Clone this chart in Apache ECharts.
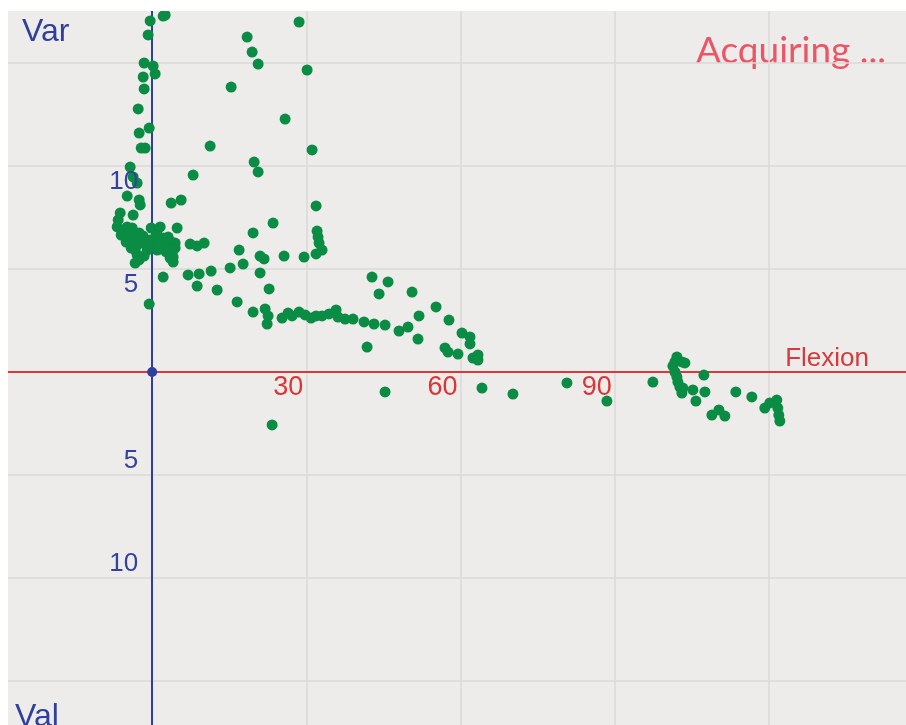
<!DOCTYPE html>
<html>
<head>
<meta charset="utf-8">
<script src="https://cdn.jsdelivr.net/npm/echarts@6/dist/echarts.min.js"></script>
<style>
  html, body { margin: 0; padding: 0; background: #ffffff; }
  #chart { position: absolute; left: 8px; top: 11px; width: 898px; height: 714px; background: #edecea; }
</style>
</head>
<body>
<div id="chart"></div>
<script>
// tick labels shown on the axes
var xLabels = [30, 60, 90]
var yLabels = [-10, -5, 5, 10]

// points near the Var axis
var axisPts = [
  [-0.39, 17.04], [2.14, 17.28], [2.53, 17.33], [-0.78, 16.36], [-1.56, 15.0], [0.19, 14.85],
  [0.58, 14.47], [-1.75, 14.32], [-1.56, 13.74], [-2.72, 12.77], [-0.58, 11.84], [-2.53, 11.6],
  [-2.14, 10.87], [-1.36, 10.87], [-4.28, 9.95], [-3.7, 9.47], [-2.92, 9.17], [-4.86, 8.54],
  [-2.53, 8.35], [-2.33, 8.11], [-0.58, 3.3]
]
// dense cluster around x = 0
var clusterPts = [
  [-6.22, 7.72], [-3.7, 7.62], [-6.61, 7.38], [-6.81, 7.04], [-5.64, 6.89], [-4.86, 7.04],
  [-3.89, 6.99], [-6.03, 6.65], [-5.25, 6.55], [-4.28, 6.6], [-3.31, 6.75], [-2.53, 6.75],
  [-1.75, 6.6], [-2.33, 6.41], [-3.7, 6.31], [-2.92, 6.17], [-1.75, 6.26], [-0.97, 5.92],
  [-3.31, 5.92], [-2.92, 5.68], [-3.31, 5.29], [-0.19, 6.99], [1.56, 7.04], [0.19, 6.31],
  [1.17, 6.41], [2.14, 6.5], [3.11, 6.55], [0.97, 5.92], [1.94, 5.97], [2.92, 6.17],
  [3.7, 6.31], [4.47, 6.26], [3.89, 5.83], [4.08, 5.58], [4.08, 5.34], [4.47, 6.02],
  [2.14, 4.61], [-5.06, 6.31], [-4.08, 6.02], [-1.56, 5.63], [-2.53, 5.44], [-0.39, 6.41],
  [0.78, 6.6], [2.72, 5.83], [3.5, 5.53]
]
// scattered points between 5 and 35
var upperPts = [
  [18.48, 16.26], [19.45, 15.53], [20.62, 14.95], [15.37, 13.83], [11.28, 10.97], [25.87, 12.28],
  [28.59, 16.99], [30.15, 14.66], [31.12, 10.78], [19.84, 10.19], [20.62, 9.71], [7.97, 9.56],
  [3.7, 8.2], [5.64, 8.35], [4.86, 6.99], [31.9, 8.06], [23.53, 7.23], [19.64, 6.75],
  [32.09, 6.84], [32.28, 6.55], [32.48, 6.26], [33.06, 5.92], [31.9, 5.73], [7.39, 6.21],
  [8.75, 6.12], [10.11, 6.26], [16.92, 5.92], [21.0, 5.63], [21.78, 5.49], [25.67, 5.63],
  [29.56, 5.58], [15.17, 5.05], [17.7, 5.24], [11.47, 4.9], [9.14, 4.76], [7.0, 4.71],
  [21.0, 4.81], [8.75, 4.17], [12.64, 3.98], [22.76, 4.03], [16.53, 3.4], [23.34, -2.57]
]
// the long band sloping down to the flexion line
var bandPts = [
  [19.64, 2.91], [21.98, 3.06], [22.56, 2.72], [22.37, 2.33], [25.28, 2.62], [26.45, 2.86],
  [27.23, 2.72], [28.59, 2.91], [29.76, 2.77], [30.92, 2.62], [31.9, 2.72], [33.06, 2.72],
  [34.42, 2.82], [35.79, 3.01], [36.17, 2.67], [37.54, 2.57], [39.09, 2.57], [41.23, 2.43],
  [43.17, 2.33], [45.32, 2.28], [42.78, 4.61], [45.9, 4.37], [44.15, 3.79], [50.57, 3.88],
  [41.82, 1.21], [48.04, 1.99], [49.79, 2.18], [51.93, 2.72], [51.73, 1.6], [55.24, 3.16],
  [57.76, 2.52], [56.98, 1.17], [57.57, 0.97], [59.51, 0.87], [60.29, 1.89], [61.85, 1.7],
  [61.85, 1.36], [62.43, 0.68], [63.4, 0.83], [63.4, 0.58], [45.32, -0.97], [64.18, -0.78],
  [70.21, -1.07], [80.71, -0.53], [88.49, -1.41], [97.44, -0.49]
]
// cluster on the right, around 100 to 122
var rightPts = [
  [102.11, 0.73], [101.72, 0.49], [101.33, 0.29], [103.08, 0.49], [103.66, 0.44], [101.72, 0],
  [102.11, -0.24], [102.3, -0.49], [102.69, -0.73], [103.27, -0.78], [103.08, -1.02], [107.36, -0.15],
  [105.22, -0.87], [107.56, -0.97], [105.81, -1.41], [108.92, -2.09], [110.28, -1.84], [111.45, -2.14],
  [113.58, -0.97], [116.69, -1.21], [119.22, -1.75], [120.19, -1.5], [121.55, -1.36], [121.75, -1.75],
  [121.94, -2.09], [122.14, -2.38]
]
var bluePts = [[0.97, 6.65], [2.53, 5.92]]
var originPt = [[0, 0]]

var green = '#0b8c45'
var blue = '#2f3f9f'
var red = '#d63a3a'
var labelFont = 'Liberation Sans'

function dots(data) {
  return {
    type: 'scatter',
    data: data,
    symbolSize: 11,
    itemStyle: { color: green, opacity: 1 },
    z: 3
  }
}

var myChart = echarts.init(document.getElementById('chart'))
var option = {
  animation: false,
  grid: {
    left: -10,
    right: -17,
    top: -51,
    bottom: -59,
    containLabel: false,
    outerBoundsMode: 'none'
  },
  xAxis: {
    type: 'value',
    min: -30,
    max: 150,
    interval: 30,
    axisLine: { onZero: true, lineStyle: { color: red, width: 2 } },
    axisTick: { show: false },
    axisLabel: { show: false },
    splitLine: { show: true, lineStyle: { color: '#dbdad8', width: 1.5 } }
  },
  yAxis: {
    type: 'value',
    min: -20,
    max: 20,
    interval: 5,
    axisLine: { onZero: true, lineStyle: { color: blue, width: 2 } },
    axisTick: { show: false },
    axisLabel: { show: false },
    splitLine: { show: true, lineStyle: { color: '#dbdad8', width: 1.5 } }
  },
  graphic: [
    { type: 'text', left: 14, top: 5, style: { text: 'Var', fill: blue, font: '32px "Liberation Sans", Arial, sans-serif' } },
    { type: 'text', left: 7, top: 690, style: { text: 'Val', fill: blue, font: '32px "Liberation Sans", Arial, sans-serif' } },
    { type: 'text', right: 20, top: 22, style: { text: 'Acquiring ...', fill: '#ec5566', font: '37px Lato, sans-serif' } },
    { type: 'text', right: 37, top: 335, style: { text: 'Flexion', fill: red, font: '26px "Liberation Sans", Arial, sans-serif' } }
  ],
  series: [
    { type: 'scatter', data: bluePts, symbolSize: 11, itemStyle: { color: '#2f6fb0', opacity: 1 }, z: 2 },
    dots(axisPts),
    dots(clusterPts),
    dots(upperPts),
    dots(bandPts),
    dots(rightPts),
    { type: 'scatter', data: originPt, symbolSize: 10, itemStyle: { color: blue, opacity: 1 }, z: 4 },
    {
      // x tick labels along the Flexion line
      type: 'scatter',
      silent: true,
      symbolSize: 0,
      itemStyle: { opacity: 1 },
      data: xLabels.map(function (v) { return [v, 0] }),
      label: {
        show: true,
        position: 'left',
        distance: 3,
        offset: [0, 16],
        color: '#dc3535',
        opacity: 1,
        fontSize: 27,
        fontFamily: labelFont,
        formatter: function (p) { return String(p.value[0]) }
      },
      z: 10
    },
    {
      // y tick labels along the Var axis
      type: 'scatter',
      silent: true,
      symbolSize: 0,
      itemStyle: { opacity: 1 },
      data: yLabels.map(function (v) {
        return {
          value: [0, v],
          label: { offset: [0, v > 0 ? 16 : -14] }
        }
      }),
      label: {
        show: true,
        position: 'left',
        distance: 14,
        color: '#33419f',
        opacity: 1,
        fontSize: 26,
        fontFamily: labelFont,
        formatter: function (p) { return String(Math.abs(p.value[1])) }
      },
      z: 10
    }
  ]
}
myChart.setOption(option)
</script>
</body>
</html>
